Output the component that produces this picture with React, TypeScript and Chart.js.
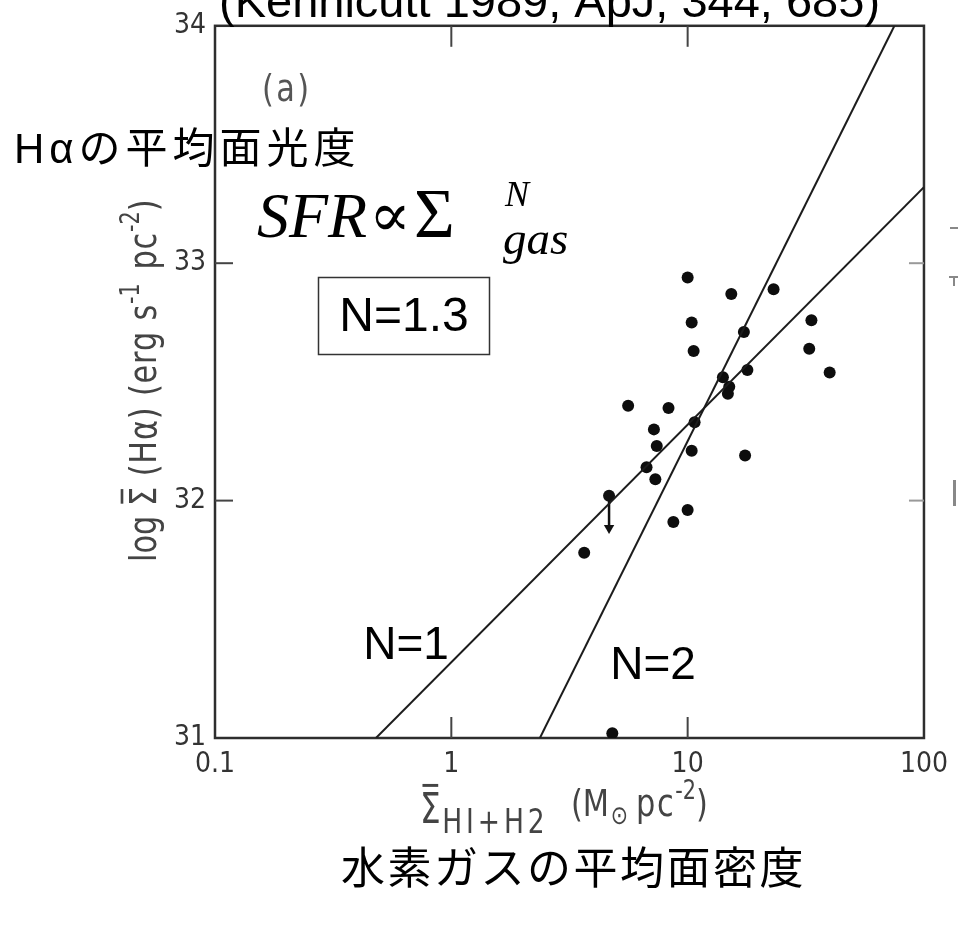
import React, { useEffect, useRef } from "react";
import { Chart, registerables } from "chart.js";

Chart.register(...registerables);

const W = 958;
const H = 926;

// Mean gas surface density of each disk (M_sun pc^-2)
const gasDensity = [
  10.0, 15.3, 23.1, 10.4, 17.3, 33.4, 10.6, 32.7, 39.9, 17.9, 14.1, 15.0, 14.8,
  5.6, 8.3, 10.7, 7.2, 7.4, 10.4, 17.5, 6.7, 7.3, 10.0, 8.7, 3.65, 4.8,
];
// log of the mean H-alpha surface brightness (erg s^-1 pc^-2)
const haBrightness = [
  32.94, 32.87, 32.89, 32.75, 32.71, 32.76, 32.63, 32.64, 32.54, 32.55, 32.52,
  32.48, 32.45, 32.4, 32.39, 32.33, 32.3, 32.23, 32.21, 32.19, 32.14, 32.09,
  31.96, 31.91, 31.78, 31.02,
];

// Upper limit: measured value and the arrow head below it
const limitDensity = [4.65, 4.65];
const limitBrightness = [32.02, 31.885];

// Reference power laws, slope N=1 and N=2, end points
const slope1Density = [0.48, 100];
const slope1Brightness = [31.0, 33.32];
const slope2Density = [2.37, 75];
const slope2Brightness = [31.0, 34.0];

const xTickValues = [0.1, 1, 10, 100];
const xTickLabels = ["0.1", "1", "10", "100"];
const yTickValues = [31, 32, 33, 34];
const xInnerTicks = [1, 10];
const yInnerTicks = [32, 33];

const tickFont = '"DejaVu Sans Condensed", "Liberation Sans Narrow", "Liberation Sans", sans-serif';
const scanFont = '"DejaVu Sans", sans-serif';
const jpFont = '"Liberation Sans", "Noto Sans CJK JP", sans-serif';
const serif = '"Liberation Serif", "Times New Roman", serif';

type Run = { t: string; size: number; dy?: number; bar?: boolean; gap?: number; spacing?: number };

// Draws a sequence of text runs with a horizontal squeeze (old typeset look)
function drawRuns(
  ctx: CanvasRenderingContext2D,
  runs: Run[],
  squeeze: number,
  color: string
) {
  ctx.save();
  ctx.scale(squeeze, 1);
  ctx.fillStyle = color;
  ctx.textBaseline = "alphabetic";
  ctx.textAlign = "left";
  let cx = 0;
  for (const r of runs) {
    ctx.font = `${r.size}px ${scanFont}`;
    (ctx as any).letterSpacing = `${r.spacing ?? 0}px`;
    const dy = r.dy ?? 0;
    ctx.fillText(r.t, cx, dy);
    const w = ctx.measureText(r.t).width;
    if (r.bar) {
      ctx.fillRect(cx + w * 0.12, dy - r.size * 0.93, w * 0.76, r.size * 0.07);
    }
    cx += w + (r.gap ?? 0);
  }
  (ctx as any).letterSpacing = "0px";
  ctx.restore();
}

const pair = (xs: number[], ys: number[]) => xs.map((x, i) => ({ x, y: ys[i] }));

const framePlugin = {
  id: "frame",
  beforeDatasetsDraw(chart: any) {
    const { ctx, chartArea: a, scales } = chart;
    const x = scales.x;
    const y = scales.y;
    ctx.save();
    ctx.strokeStyle = "#2e2e2e";
    ctx.lineWidth = 2.5;
    ctx.strokeRect(a.left, a.top, a.right - a.left, a.bottom - a.top);
    const seg = (x1: number, y1: number, x2: number, y2: number) => {
      ctx.beginPath();
      ctx.moveTo(x1, y1);
      ctx.lineTo(x2, y2);
      ctx.stroke();
    };
    ctx.lineWidth = 2;
    ctx.strokeStyle = "#444";
    for (const v of xInnerTicks) {
      const px = x.getPixelForValue(v);
      seg(px, a.bottom, px, a.bottom - 21);
      seg(px, a.top, px, a.top + 21);
    }
    for (const v of yInnerTicks) {
      const py = y.getPixelForValue(v);
      seg(a.left, py, a.left + 18, py);
    }
    ctx.strokeStyle = "#999";
    for (const v of yInnerTicks) {
      const py = y.getPixelForValue(v);
      seg(a.right - 15, py, a.right, py);
    }
    ctx.restore();
  },
  afterDraw(chart: any) {
    const { ctx } = chart;
    ctx.save();

    // citation across the top
    ctx.fillStyle = "#000";
    ctx.textAlign = "left";
    ctx.textBaseline = "alphabetic";
    ctx.font = `47px "Liberation Sans", Arial, sans-serif`;
    ctx.fillText("(Kennicutt 1989, ApJ, 344, 685)", 219, 17);

    // panel tag
    ctx.save();
    ctx.translate(262, 101);
    drawRuns(ctx, [{ t: "(a)", size: 38, spacing: 3 }], 0.8, "#555");
    ctx.restore();

    // Japanese annotations
    ctx.fillStyle = "#000";
    ctx.font = `42px ${jpFont}`;
    ctx.textBaseline = "middle";
    (ctx as any).letterSpacing = "5px";
    ctx.fillText("Hαの平均面光度", 14, 151);
    ctx.font = `44px ${jpFont}`;
    (ctx as any).letterSpacing = "2.5px";
    ctx.fillText("水素ガスの平均面密度", 341, 872);
    (ctx as any).letterSpacing = "0px";

    // star formation law
    ctx.textBaseline = "alphabetic";
    ctx.font = `italic 64px ${serif}`;
    ctx.fillText("SFR", 257, 237);
    ctx.font = `62px "DejaVu Serif", serif`;
    ctx.fillText("∝", 369, 236);
    ctx.font = `70px ${serif}`;
    ctx.fillText("Σ", 414, 237);
    ctx.font = `italic 36px ${serif}`;
    ctx.fillText("N", 505, 206);
    ctx.font = `italic 47px ${serif}`;
    ctx.fillText("gas", 503, 254);

    // fitted index
    ctx.strokeStyle = "#333";
    ctx.lineWidth = 1.5;
    ctx.strokeRect(318.5, 277.5, 171, 77);
    ctx.font = `48px "Liberation Sans", Arial, sans-serif`;
    ctx.textAlign = "center";
    ctx.textBaseline = "middle";
    ctx.fillText("N=1.3", 404, 318);
    ctx.font = `46px "Liberation Sans", Arial, sans-serif`;
    ctx.fillText("N=1", 406, 646);
    ctx.fillText("N=2", 653, 666);

    // original axis titles
    ctx.save();
    ctx.translate(156, 562);
    ctx.rotate(-Math.PI / 2);
    drawRuns(
      ctx,
      [
        { t: "log ", size: 38 },
        { t: "Σ", size: 38, bar: true },
        { t: " (Hα) (erg s", size: 38, spacing: 1 },
        { t: "-1", size: 26, dy: -17, gap: 4 },
        { t: " pc", size: 38, spacing: 1 },
        { t: "-2", size: 26, dy: -17 },
        { t: ")", size: 38 },
      ],
      0.8,
      "#444"
    );
    ctx.restore();

    ctx.save();
    ctx.translate(420, 823);
    drawRuns(
      ctx,
      [
        { t: "Σ", size: 42, bar: true, gap: 2 },
        { t: "HI+H2", size: 34, dy: 10, spacing: 5 },
      ],
      0.78,
      "#444"
    );
    ctx.restore();
    ctx.save();
    ctx.translate(571, 816);
    drawRuns(
      ctx,
      [
        { t: "(M", size: 38, gap: 2 },
        { t: "⊙", size: 26, dy: 8, gap: 10 },
        { t: "pc", size: 38, spacing: 2 },
        { t: "-2", size: 26, dy: -17 },
        { t: ")", size: 38 },
      ],
      0.8,
      "#444"
    );
    ctx.restore();

    // edge of the neighbouring panel
    ctx.fillStyle = "#888";
    ctx.fillRect(950, 227, 8, 2);
    ctx.fillRect(949, 276, 9, 2);
    ctx.fillRect(953, 276, 2, 10);
    ctx.fillRect(953, 480, 3, 26);

    ctx.restore();
  },
};

export default function App() {
  const ref = useRef<HTMLCanvasElement>(null);

  useEffect(() => {
    const canvas = ref.current;
    if (!canvas) return;
    const chart = new Chart(canvas, {
      type: "scatter",
      data: {
        datasets: [
          {
            label: "N=1",
            data: pair(slope1Density, slope1Brightness),
            showLine: true,
            borderColor: "#1c1c1c",
            borderWidth: 2,
            pointRadius: 0,
          },
          {
            label: "N=2",
            data: pair(slope2Density, slope2Brightness),
            showLine: true,
            borderColor: "#1c1c1c",
            borderWidth: 2,
            pointRadius: 0,
          },
          {
            label: "upper limit",
            data: pair(limitDensity, limitBrightness),
            showLine: true,
            borderColor: "#111",
            borderWidth: 2.5,
            backgroundColor: "#111",
            pointRadius: [6, 6],
            pointStyle: ["circle", "triangle"] as any,
            rotation: [0, 180],
            pointBorderWidth: 0,
          },
          {
            label: "galaxies",
            data: pair(gasDensity, haBrightness),
            backgroundColor: "#0d0d0d",
            pointRadius: 6,
            pointBorderWidth: 0,
          },
        ],
      },
      options: {
        responsive: false,
        animation: false,
        events: [],
        layout: { padding: { top: 17, right: 26, left: 0, bottom: 0 } },
        plugins: { legend: { display: false }, tooltip: { enabled: false } },
        scales: {
          x: {
            type: "logarithmic",
            min: 0.1,
            max: 100,
            afterBuildTicks: (s: any) => {
              s.ticks = xTickValues.map((v) => ({ value: v }));
            },
            afterFit: (s: any) => {
              s.height = 188;
            },
            grid: { display: false, drawTicks: false },
            border: { display: false },
            ticks: {
              autoSkip: false,
              maxRotation: 0,
              padding: 10,
              color: "#333",
              font: { family: tickFont, size: 28 },
              callback: (v: any) => {
                const i = xTickValues.findIndex((t) => Math.abs(t - Number(v)) < 1e-9);
                return i >= 0 ? xTickLabels[i] : "";
              },
            },
          },
          y: {
            type: "linear",
            min: 31,
            max: 34,
            afterBuildTicks: (s: any) => {
              s.ticks = yTickValues.map((v) => ({ value: v }));
            },
            afterFit: (s: any) => {
              s.width = 215;
            },
            grid: { display: false, drawTicks: false },
            border: { display: false },
            ticks: {
              padding: 9,
              color: "#333",
              font: { family: tickFont, size: 28 },
            },
          },
        },
      },
      plugins: [framePlugin],
    });
    return () => chart.destroy();
  }, []);

  return (
    <div style={{ position: "fixed", left: 0, top: 0, width: W, height: H, background: "#fff" }}>
      <canvas ref={ref} width={W} height={H} style={{ display: "block", width: W, height: H }} />
    </div>
  );
}
